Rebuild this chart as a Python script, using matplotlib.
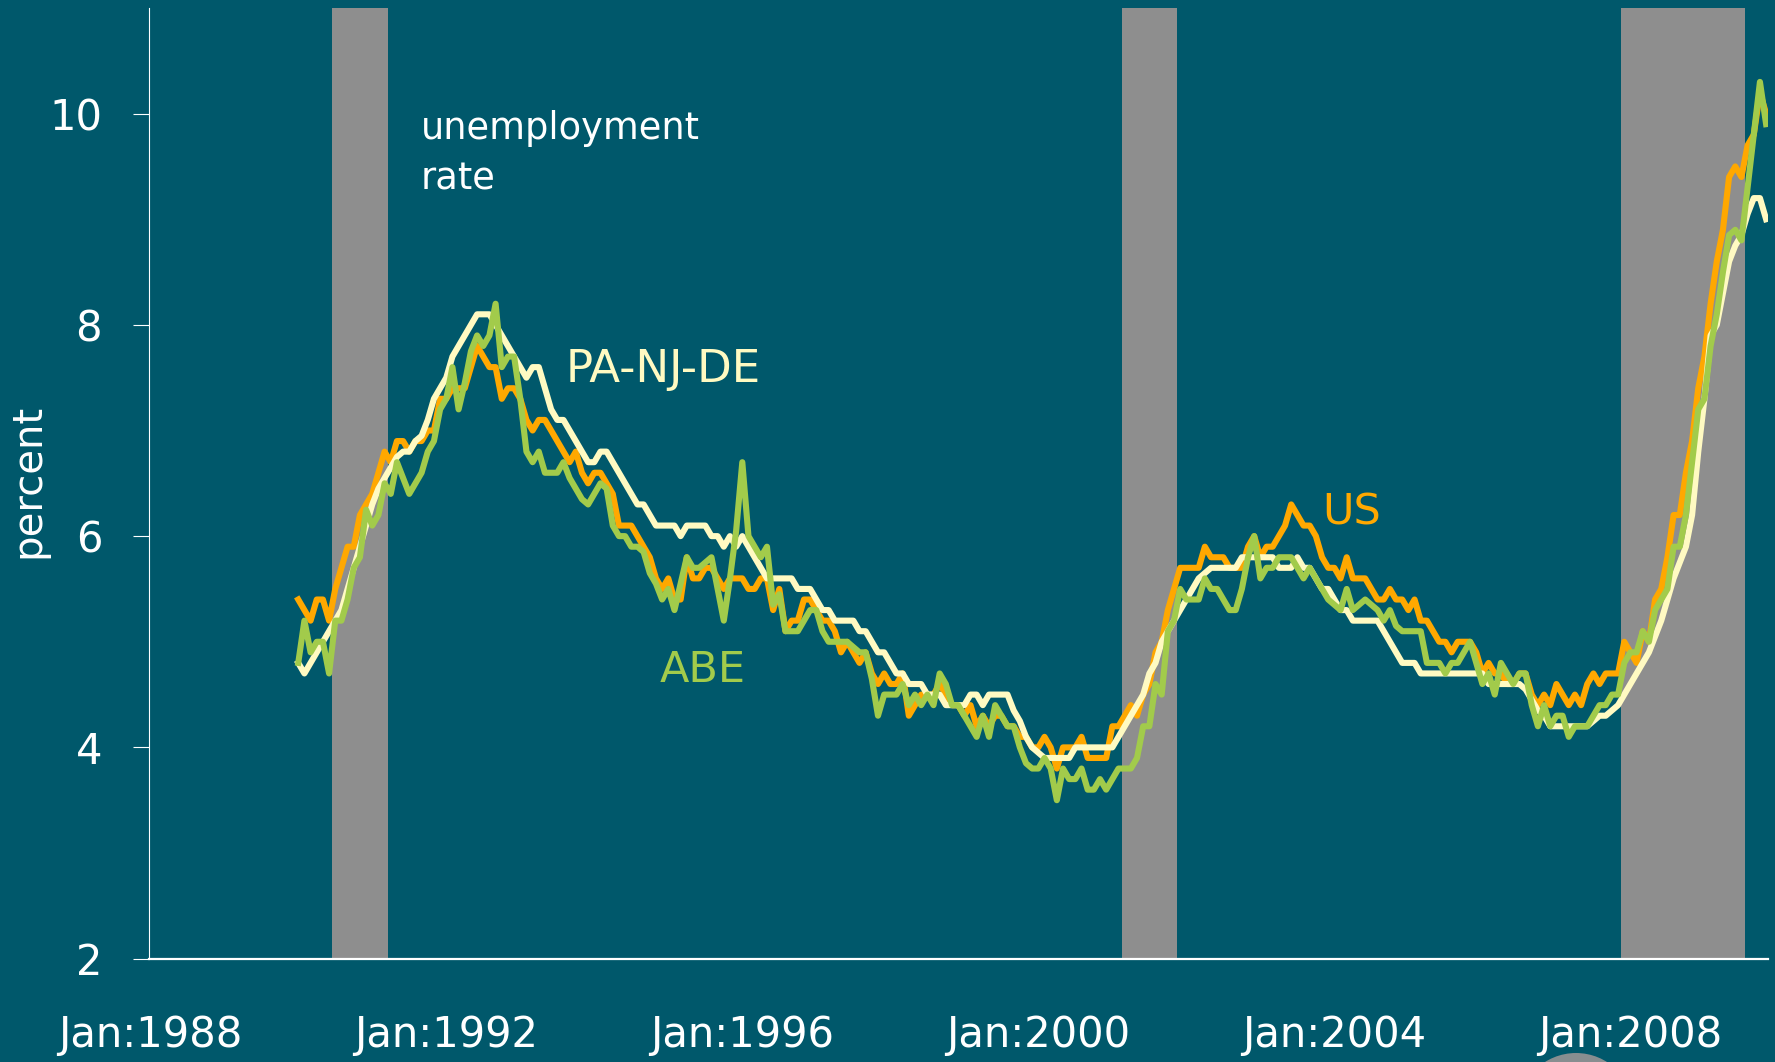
import numpy as np
import matplotlib
matplotlib.use("Agg")
import matplotlib.pyplot as plt
from matplotlib.patches import Ellipse

### data (monthly, Jan 1990 - Nov 2009)
us_rate = [
    5.4, 5.3, 5.2, 5.4, 5.4, 5.2, 5.5, 5.7, 5.9, 5.9, 6.2, 6.3,  # 1990
    6.4, 6.6, 6.8, 6.7, 6.9, 6.9, 6.8, 6.9, 6.9, 7.0, 7.0, 7.3,  # 1991
    7.3, 7.4, 7.4, 7.4, 7.6, 7.8, 7.7, 7.6, 7.6, 7.3, 7.4, 7.4,  # 1992
    7.3, 7.1, 7.0, 7.1, 7.1, 7.0, 6.9, 6.8, 6.7, 6.8, 6.6, 6.5,  # 1993
    6.6, 6.6, 6.5, 6.4, 6.1, 6.1, 6.1, 6.0, 5.9, 5.8, 5.6, 5.5,  # 1994
    5.6, 5.4, 5.4, 5.8, 5.6, 5.6, 5.7, 5.7, 5.6, 5.5, 5.6, 5.6,  # 1995
    5.6, 5.5, 5.5, 5.6, 5.6, 5.3, 5.5, 5.1, 5.2, 5.2, 5.4, 5.4,  # 1996
    5.3, 5.2, 5.2, 5.1, 4.9, 5.0, 4.9, 4.8, 4.9, 4.7, 4.6, 4.7,  # 1997
    4.6, 4.6, 4.7, 4.3, 4.4, 4.5, 4.5, 4.5, 4.6, 4.5, 4.4, 4.4,  # 1998
    4.3, 4.4, 4.2, 4.3, 4.2, 4.3, 4.3, 4.2, 4.2, 4.1, 4.1, 4.0,  # 1999
    4.0, 4.1, 4.0, 3.8, 4.0, 4.0, 4.0, 4.1, 3.9, 3.9, 3.9, 3.9,  # 2000
    4.2, 4.2, 4.3, 4.4, 4.3, 4.5, 4.6, 4.9, 5.0, 5.3, 5.5, 5.7,  # 2001
    5.7, 5.7, 5.7, 5.9, 5.8, 5.8, 5.8, 5.7, 5.7, 5.7, 5.9, 6.0,  # 2002
    5.8, 5.9, 5.9, 6.0, 6.1, 6.3, 6.2, 6.1, 6.1, 6.0, 5.8, 5.7,  # 2003
    5.7, 5.6, 5.8, 5.6, 5.6, 5.6, 5.5, 5.4, 5.4, 5.5, 5.4, 5.4,  # 2004
    5.3, 5.4, 5.2, 5.2, 5.1, 5.0, 5.0, 4.9, 5.0, 5.0, 5.0, 4.9,  # 2005
    4.7, 4.8, 4.7, 4.7, 4.6, 4.6, 4.7, 4.7, 4.5, 4.4, 4.5, 4.4,  # 2006
    4.6, 4.5, 4.4, 4.5, 4.4, 4.6, 4.7, 4.6, 4.7, 4.7, 4.7, 5.0,  # 2007
    4.9, 4.8, 5.1, 5.0, 5.4, 5.5, 5.8, 6.2, 6.2, 6.6, 6.9, 7.4,  # 2008
    7.7, 8.2, 8.6, 8.9, 9.4, 9.5, 9.4, 9.7, 9.8, 10.2, 10.0,     # 2009
]

pa_nj_de_rate = [
    4.8, 4.7, 4.8, 4.9, 5.0, 5.1, 5.2, 5.3, 5.5, 5.7, 5.9, 6.1,
    6.3, 6.45, 6.55, 6.65, 6.75, 6.8, 6.8, 6.9, 6.95, 7.1, 7.3, 7.4,
    7.5, 7.7, 7.8, 7.9, 8.0, 8.1, 8.1, 8.1, 8.0, 7.9, 7.8, 7.7,
    7.6, 7.5, 7.6, 7.6, 7.4, 7.2, 7.1, 7.1, 7.0, 6.9, 6.8, 6.7,
    6.7, 6.8, 6.8, 6.7, 6.6, 6.5, 6.4, 6.3, 6.3, 6.2, 6.1, 6.1,
    6.1, 6.1, 6.0, 6.1, 6.1, 6.1, 6.1, 6.0, 6.0, 5.9, 6.0, 5.9,
    6.0, 5.9, 5.8, 5.7, 5.6, 5.6, 5.6, 5.6, 5.6, 5.5, 5.5, 5.5,
    5.4, 5.3, 5.3, 5.2, 5.2, 5.2, 5.2, 5.1, 5.1, 5.0, 4.9, 4.9,
    4.8, 4.7, 4.7, 4.6, 4.6, 4.6, 4.5, 4.5, 4.5, 4.4, 4.4, 4.4,
    4.4, 4.5, 4.5, 4.4, 4.5, 4.5, 4.5, 4.5, 4.35, 4.25, 4.1, 4.0,
    3.95, 3.9, 3.9, 3.9, 3.9, 3.9, 4.0, 4.0, 4.0, 4.0, 4.0, 4.0,
    4.0, 4.1, 4.2, 4.3, 4.4, 4.5, 4.7, 4.8, 5.0, 5.1, 5.2, 5.3,
    5.4, 5.5, 5.6, 5.65, 5.7, 5.7, 5.7, 5.7, 5.7, 5.8, 5.8, 5.8,
    5.8, 5.8, 5.8, 5.7, 5.7, 5.7, 5.8, 5.7, 5.7, 5.6, 5.5, 5.5,
    5.4, 5.3, 5.3, 5.2, 5.2, 5.2, 5.2, 5.2, 5.1, 5.0, 4.9, 4.8,
    4.8, 4.8, 4.7, 4.7, 4.7, 4.7, 4.7, 4.7, 4.7, 4.7, 4.7, 4.7,
    4.7, 4.6, 4.6, 4.6, 4.6, 4.6, 4.6, 4.55, 4.45, 4.35, 4.3, 4.2,
    4.2, 4.2, 4.2, 4.2, 4.2, 4.2, 4.25, 4.3, 4.3, 4.35, 4.4, 4.5,
    4.6, 4.7, 4.8, 4.9, 5.05, 5.2, 5.4, 5.6, 5.75, 5.9, 6.2, 6.8,
    7.3, 7.9, 8.0, 8.3, 8.6, 8.75, 8.85, 9.05, 9.2, 9.2, 9.0,
]

abe_rate = [
    4.8, 5.2, 4.9, 5.0, 5.0, 4.7, 5.2, 5.2, 5.4, 5.7, 5.8, 6.25,
    6.1, 6.2, 6.5, 6.4, 6.7, 6.55, 6.4, 6.5, 6.6, 6.8, 6.9, 7.2,
    7.3, 7.6, 7.2, 7.45, 7.75, 7.9, 7.8, 7.9, 8.2, 7.6, 7.7, 7.7,
    7.3, 6.8, 6.7, 6.8, 6.6, 6.6, 6.6, 6.7, 6.55, 6.45, 6.35, 6.3,
    6.4, 6.5, 6.45, 6.1, 6.0, 6.0, 5.9, 5.9, 5.85, 5.65, 5.55, 5.4,
    5.5, 5.3, 5.55, 5.8, 5.7, 5.7, 5.75, 5.8, 5.5, 5.2, 5.6, 6.05,
    6.7, 6.0, 5.9, 5.8, 5.9, 5.35, 5.45, 5.1, 5.1, 5.1, 5.2, 5.3,
    5.3, 5.1, 5.0, 5.0, 5.0, 5.0, 4.95, 4.9, 4.9, 4.65, 4.3, 4.5,
    4.5, 4.5, 4.6, 4.4, 4.5, 4.4, 4.5, 4.4, 4.7, 4.6, 4.4, 4.4,
    4.3, 4.2, 4.1, 4.3, 4.1, 4.4, 4.3, 4.2, 4.2, 4.0, 3.85, 3.8,
    3.8, 3.9, 3.8, 3.5, 3.8, 3.7, 3.7, 3.8, 3.6, 3.6, 3.7, 3.6,
    3.7, 3.8, 3.8, 3.8, 3.9, 4.2, 4.2, 4.6, 4.5, 5.1, 5.2, 5.5,
    5.4, 5.4, 5.4, 5.6, 5.5, 5.5, 5.4, 5.3, 5.3, 5.5, 5.8, 6.0,
    5.6, 5.7, 5.7, 5.8, 5.8, 5.8, 5.7, 5.6, 5.7, 5.6, 5.5, 5.4,
    5.35, 5.3, 5.5, 5.3, 5.35, 5.4, 5.35, 5.3, 5.2, 5.3, 5.15, 5.1,
    5.1, 5.1, 5.1, 4.8, 4.8, 4.8, 4.7, 4.8, 4.8, 4.9, 5.0, 4.8,
    4.6, 4.7, 4.5, 4.8, 4.7, 4.6, 4.7, 4.7, 4.4, 4.2, 4.4, 4.2,
    4.3, 4.3, 4.1, 4.2, 4.2, 4.2, 4.3, 4.4, 4.4, 4.5, 4.5, 4.8,
    4.9, 4.9, 5.1, 5.0, 5.3, 5.4, 5.5, 5.9, 5.9, 6.2, 6.7, 7.2,
    7.3, 7.8, 8.1, 8.5, 8.85, 8.9, 8.8, 9.3, 9.8, 10.3, 9.9,
]

# NBER recessions (start year, month), (end year, month)
recessions = [((1990, 7), (1991, 3)), ((2001, 3), (2001, 11)), ((2007, 12), (2009, 7))]

tick_years = [1988, 1992, 1996, 2000, 2004, 2008]
tick_labels = ["Jan:%d" % y for y in tick_years]
y_ticks = [2, 4, 6, 8, 10]

BG = "#00586B"
GRAY = "#8E8E8E"
ORANGE = "#FFA800"
CREAM = "#FFFAC2"
GREEN = "#A2CB4B"

plt.rcParams["font.family"] = ["DejaVu Sans"]

x = 1990 + np.arange(len(us_rate)) / 12

fig = plt.figure(figsize=(17.75, 10.62), dpi=100, facecolor=BG)
ax = fig.add_axes([0.0838, 0.0973, 0.9123, 0.8952], facecolor=BG)

for (y0, m0), (y1, m1) in recessions:
  ax.axvspan(y0 + (m0 - 1) / 12 - 1 / 24, y1 + (m1 - 1) / 12 + 1 / 24,
             color=GRAY, lw=0, zorder=1)

ax.plot(x, us_rate, color=ORANGE, lw=4.4, zorder=3)
ax.plot(x, pa_nj_de_rate, color=CREAM, lw=4.4, zorder=4)
ax.plot(x, abe_rate, color=GREEN, lw=4.4, zorder=5)

ax.set_xlim(1987.98, 2009.86)
ax.set_ylim(2, 11)

ax.set_xticks(tick_years)
ax.set_xticklabels(tick_labels)
ax.set_yticks(y_ticks)

ax.tick_params(axis="y", length=11.5, width=0.8, color="white", pad=22,
               labelsize=30, labelcolor="white", direction="out")
ax.tick_params(axis="x", length=0, pad=40, labelsize=30, labelcolor="white")

for side in ["top", "right"]:
  ax.spines[side].set_visible(False)
ax.spines["left"].set_color("white")
ax.spines["left"].set_linewidth(0.8)
ax.spines["bottom"].set_color("white")
ax.spines["bottom"].set_linewidth(1.6)
ax.spines["left"].set_zorder(6)

# annotations
ax.text(1991.66, 9.76, "unemployment", color="white", fontsize=26.5, va="baseline", zorder=6)
ax.text(1991.66, 9.28, "rate", color="white", fontsize=26.5, va="baseline", zorder=6)
ax.text(1993.61, 7.46, "PA-NJ-DE", color=CREAM, fontsize=32.5, va="baseline", zorder=6)
ax.text(1994.88, 4.62, "ABE", color=GREEN, fontsize=31, va="baseline", zorder=6)
ax.text(2003.84, 6.11, "US", color=ORANGE, fontsize=31, va="baseline", zorder=6)

fig.text(28 / 1775, 1 - 481 / 1062, "percent", rotation=90, color="white",
         fontsize=29, ha="center", va="center")

# grey dome at the bottom edge of the slide
fig.add_artist(Ellipse((1576 / 1775, 1 - 1111 / 1062), 2 * 58 / 1775, 2 * 58 / 1062,
                       transform=fig.transFigure, color="#888E90", lw=0))

fig.savefig("out.png", dpi=100, facecolor=BG)
